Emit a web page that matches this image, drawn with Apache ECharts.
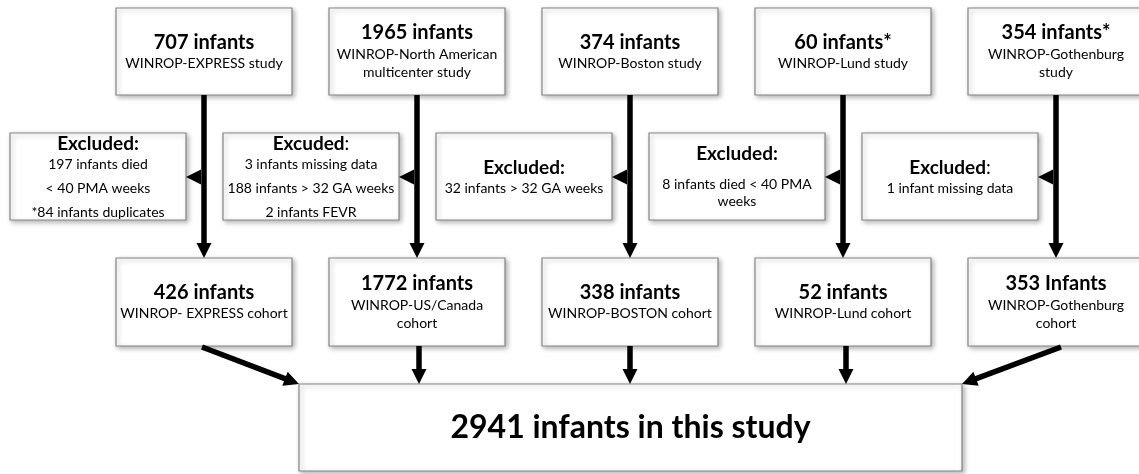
<!DOCTYPE html>
<html>
<head>
<meta charset="utf-8">
<script src="https://cdn.jsdelivr.net/npm/echarts@6/dist/echarts.min.js"></script>
<style>
  html, body { margin: 0; padding: 0; background: #fff; }
  #chart { width: 1139px; height: 474px; }
</style>
</head>
<body>
<div id="chart"></div>
<script>
// --- data, one entry per study, left to right ---
const studyHeads = ['707 infants', '1965 infants', '374 infants', '60 infants*', '354 infants*']
const studyNames = [
  ['WINROP-EXPRESS study'],
  ['WINROP-North American', 'multicenter study'],
  ['WINROP-Boston study'],
  ['WINROP-Lund study'],
  ['WINROP-Gothenburg', 'study']
]
const excludedWords = ['Excluded:', 'Excuded', 'Excluded:', 'Excluded:', 'Excluded']
const excludedTails = ['', ':', '', '', ':']
const excludedLines = [
  ['197 infants died', '< 40 PMA weeks', '*84 infants duplicates'],
  ['3 infants missing data', '188 infants > 32 GA weeks', '2 infants FEVR'],
  ['32 infants > 32 GA weeks'],
  ['8 infants died < 40 PMA', 'weeks'],
  ['1 infant missing data']
]
const cohortHeads = ['426 infants', '1772 infants', '338 infants', '52 infants', '353 Infants']
const cohortNames = [
  ['WINROP- EXPRESS cohort'],
  ['WINROP-US/Canada', 'cohort'],
  ['WINROP-BOSTON cohort'],
  ['WINROP-Lund cohort'],
  ['WINROP-Gothenburg', 'cohort']
]
const totalHead = '2941 infants in this study'

// --- layout (pixel units of the hidden axes) ---
const W = 1139, H = 474
const colX = i => 204 + 213 * i
const boxW = 176
const rowStudy = [8, 95], rowExcl = [133, 220], rowCohort = [258, 346], rowTotal = [384, 471]
const totalSpan = [299, 962]
const headOffsets = {1: [35, 55], 2: [25, 46, 64]}
const exclOffsets = [[11, 31, 55, 79], [11, 31, 55, 79], [35, 55], [21, 51, 68], [35, 55]]

const FONT = 'Lato'
const rich = {
  h: {fontFamily: FONT, fontWeight: 'bold', fontSize: 20, fill: '#000'},
  s: {fontFamily: FONT, fontSize: 14, fill: '#000'},
  e: {fontFamily: FONT, fontWeight: 'bold', fontSize: 19, fill: '#000'},
  c: {fontFamily: FONT, fontSize: 19, fill: '#000'},
  t: {fontFamily: FONT, fontWeight: 'bold', fontSize: 32, fill: '#000'}
}

// boxes: [x0, y0, x1, y1] + text lines
const boxes = []
studyHeads.forEach((head, i) => {
  boxes.push({
    value: [colX(i) - boxW / 2, rowStudy[0], colX(i) + boxW / 2, rowStudy[1]],
    lines: ['{h|' + head + '}'].concat(studyNames[i].map(t => '{s|' + t + '}')),
    offsets: headOffsets[studyNames[i].length]
  })
  boxes.push({
    value: [colX(i) - 194, rowExcl[0], colX(i) - 18, rowExcl[1]],
    lines: ['{e|' + excludedWords[i] + '}' + (excludedTails[i] ? '{c|' + excludedTails[i] + '}' : '')]
      .concat(excludedLines[i].map(t => '{s|' + t + '}')),
    offsets: exclOffsets[i]
  })
  boxes.push({
    value: [colX(i) - boxW / 2, rowCohort[0], colX(i) + boxW / 2, rowCohort[1]],
    lines: ['{h|' + cohortHeads[i] + '}'].concat(cohortNames[i].map(t => '{s|' + t + '}')),
    offsets: headOffsets[cohortNames[i].length].map(v => v + (cohortNames[i].length > 1 ? 1 : 0))
  })
})
boxes.push({
  value: [totalSpan[0], rowTotal[0], totalSpan[1], rowTotal[1]],
  lines: ['{t|' + totalHead + '}'],
  offsets: [(rowTotal[1] - rowTotal[0]) / 2]
})

// arrows: [x1, y1, x2, y2] (tip at x2, y2)
const arrows = []
studyHeads.forEach((_, i) => {
  arrows.push([colX(i), rowStudy[1], colX(i), rowCohort[0]])
  arrows.push([colX(i) - 3, 177, colX(i) - 18, 177])
})
arrows.push([202, 347, totalSpan[0], rowTotal[0]])
arrows.push([colX(1) + 2, rowCohort[1], colX(1) + 2, rowTotal[0]])
arrows.push([colX(2), rowCohort[1], colX(2), rowTotal[0]])
arrows.push([colX(3) + 3, rowCohort[1], colX(3) + 3, rowTotal[0]])
arrows.push([1061, 347, totalSpan[1], rowTotal[0]])

function renderBox(params, api) {
  const b = boxes[params.dataIndex]
  const p0 = api.coord([api.value(0), api.value(1)])
  const p1 = api.coord([api.value(2), api.value(3)])
  const cx = (p0[0] + p1[0]) / 2
  const children = [{
    type: 'rect',
    shape: {x: p0[0], y: p0[1], width: p1[0] - p0[0], height: p1[1] - p0[1]},
    style: {
      fill: '#fff', stroke: '#858585', lineWidth: 1.2,
      shadowBlur: 5, shadowOffsetX: 2, shadowOffsetY: 2, shadowColor: 'rgba(0,0,0,0.3)'
    }
  }]
  b.lines.forEach((t, k) => {
    children.push({
      type: 'text',
      style: {x: cx, y: p0[1] + b.offsets[k], text: t, rich: rich, align: 'center', verticalAlign: 'middle'}
    })
  })
  return {type: 'group', children}
}

function renderArrow(params, api) {
  const a = api.coord([api.value(0), api.value(1)])
  const b = api.coord([api.value(2), api.value(3)])
  const dx = b[0] - a[0], dy = b[1] - a[1]
  const len = Math.sqrt(dx * dx + dy * dy)
  const ux = dx / len, uy = dy / len
  const headL = 15, headW = 7.5
  const bx = b[0] - ux * headL, by = b[1] - uy * headL
  const children = []
  if (len > headL) {
    children.push({
      type: 'line',
      shape: {x1: a[0], y1: a[1], x2: bx + ux * 2, y2: by + uy * 2},
      style: {stroke: '#000', lineWidth: 5.5}
    })
  }
  children.push({
    type: 'polygon',
    shape: {points: [[b[0], b[1]], [bx - uy * headW, by + ux * headW], [bx + uy * headW, by - ux * headW]]},
    style: {fill: '#000'}
  })
  return {type: 'group', children}
}

const chart = echarts.init(document.getElementById('chart'))
chart.setOption({
  animation: false,
  grid: {left: 0, right: 0, top: 0, bottom: 0},
  xAxis: {type: 'value', min: 0, max: W, show: false},
  yAxis: {type: 'value', min: 0, max: H, inverse: true, show: false},
  series: [
    {
      type: 'custom',
      renderItem: renderBox,
      clip: false,
      data: boxes.map(b => b.value)
    },
    {
      type: 'custom',
      renderItem: renderArrow,
      clip: false,
      z: 3,
      data: arrows
    }
  ]
})
</script>
</body>
</html>
